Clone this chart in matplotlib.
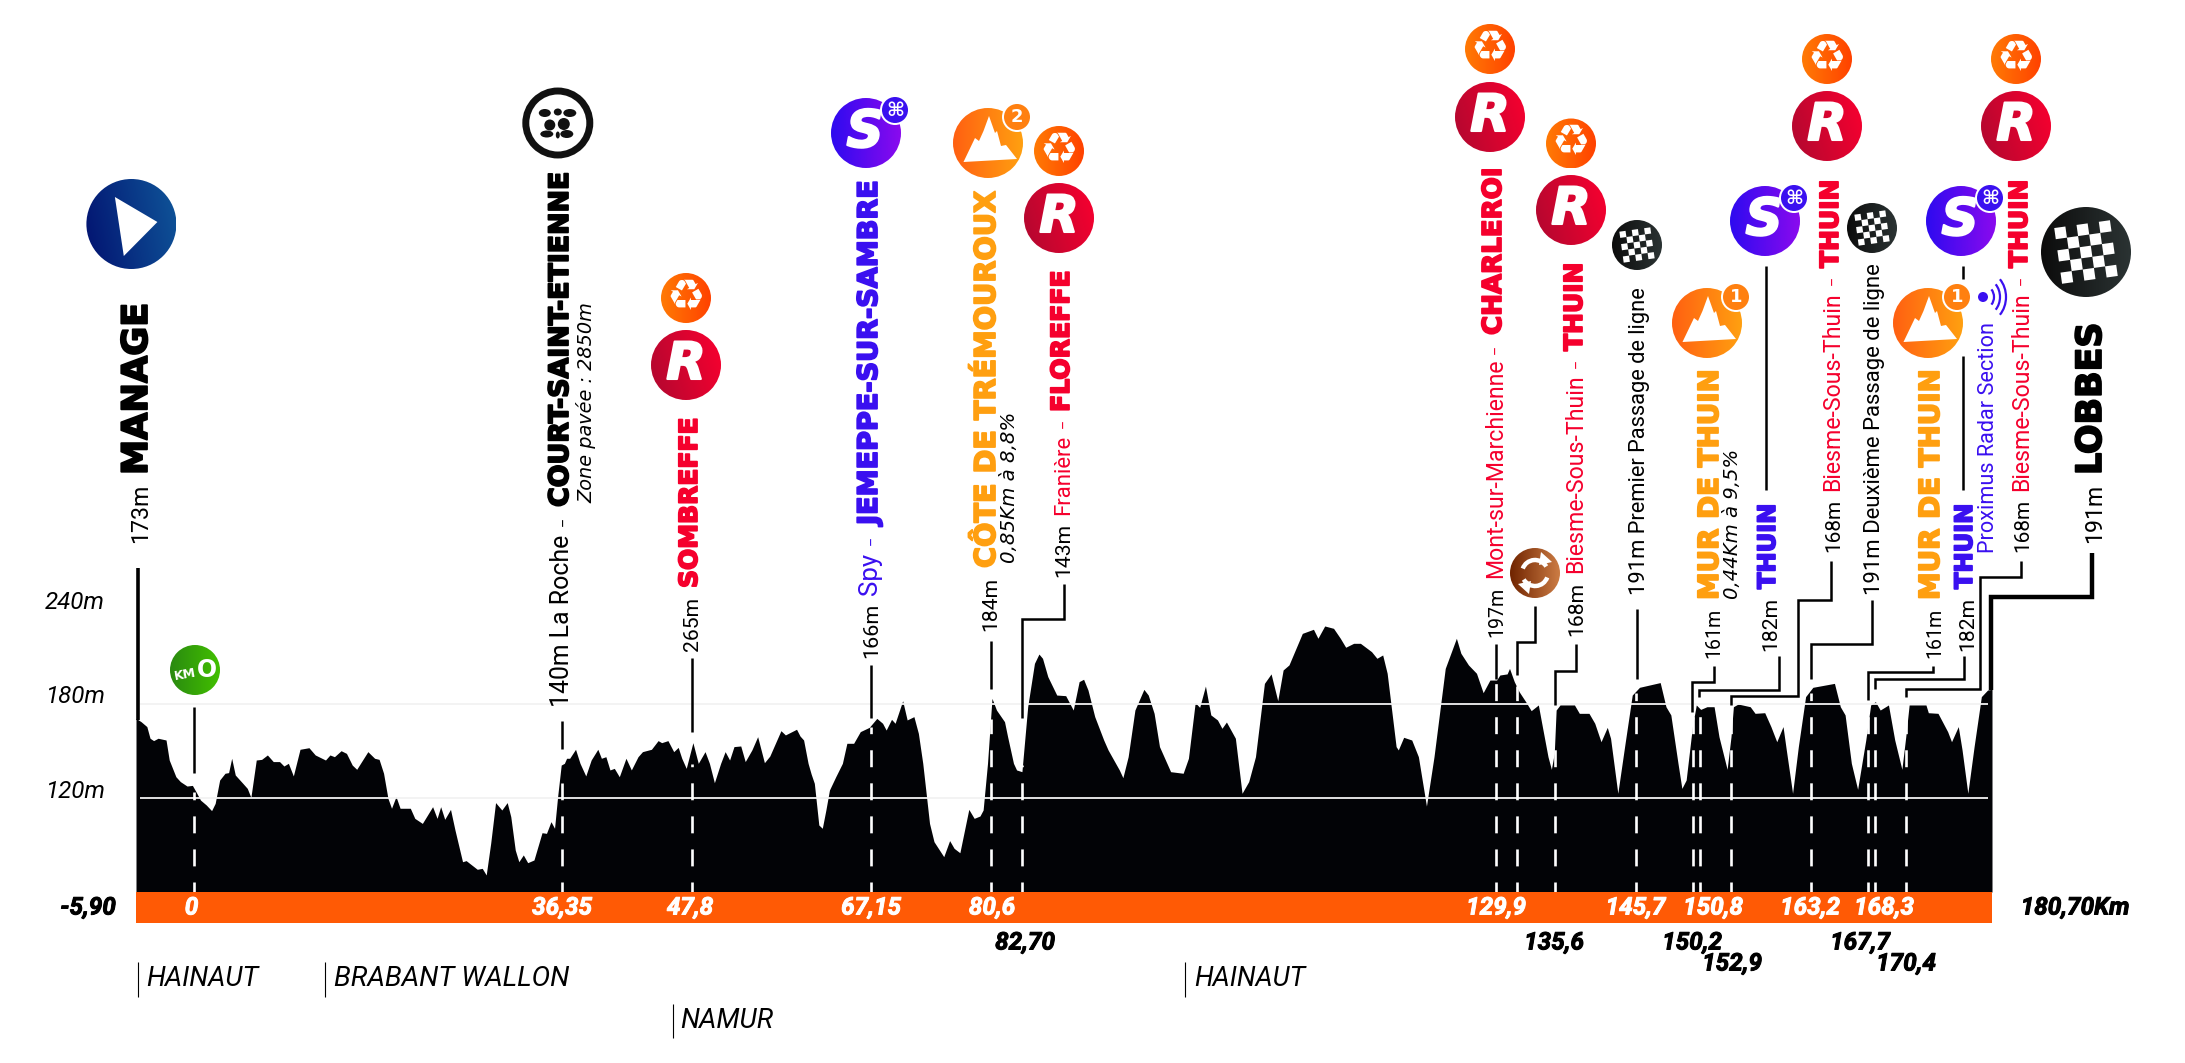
#!/usr/bin/env python3
"""Stage profile Manage - Lobbes: elevation silhouette with route markers."""
import numpy as np
import matplotlib
matplotlib.use('Agg')
import matplotlib.pyplot as plt
import matplotlib.patheffects as pe
from matplotlib.patches import Circle, Polygon, Rectangle, Ellipse, Arc

W, H = 2185, 1063

# Elevation profile
profile_km = [
    -5.9, -5.39, -4.81, -4.49, -4.13, -3.68, -2.88, -2.56, -1.89, -1.44, -0.77, -0.23, 0.13, 0.58, 1.16, 1.7,
    2.06, 2.51, 3.05, 3.41, 3.72, 4.08, 4.84, 5.29, 5.65, 6.19, 6.73, 7.31, 7.9, 8.53, 8.97, 9.42, 9.92, 10.59,
    11.49, 12.12, 13.15, 13.6, 14.05, 14.72, 15.26, 15.84, 16.29, 17.41, 18.09, 18.54, 18.99, 19.43, 19.79,
    20.24, 20.65, 21.68, 22.13, 22.89, 23.92, 24.37, 24.73, 25.14, 25.72, 26.17, 26.93, 27.29, 28.41, 28.91,
    29.31, 29.76, 30.25, 30.88, 31.42, 31.78, 32.23, 32.59, 33.04, 33.48, 34.11, 34.92, 35.37, 35.82, 36.18,
    36.49, 36.85, 37.17, 37.39, 37.7, 38.29, 38.74, 39.32, 39.86, 40.53, 40.89, 41.34, 41.75, 42.19, 42.69,
    43.36, 43.9, 44.57, 45.02, 45.92, 46.59, 46.95, 47.58, 48.16, 48.61, 48.97, 49.42, 50.09, 50.63, 51.31,
    51.75, 52.25, 52.88, 53.33, 53.78, 54.22, 54.9, 55.35, 56.02, 56.6, 57.28, 57.82, 58.94, 59.39, 60.51,
    60.86, 61.22, 61.67, 61.98, 62.3, 62.75, 63.1, 63.46, 63.82, 64.45, 65.12, 65.57, 66.25, 66.92, 67.82,
    68.58, 69.16, 69.52, 70.06, 70.42, 71.18, 71.63, 72.31, 72.76, 73.2, 73.88, 74.33, 75.31, 75.9, 76.35,
    76.93, 77.83, 78.37, 78.95, 79.27, 79.71, 80.16, 80.61, 81.42, 81.73, 82.32, 82.63, 83.17, 83.75, 84.43,
    84.88, 85.24, 85.77, 86.67, 87.57, 88.33, 88.92, 89.37, 89.81, 90.49, 91.39, 91.83, 92.96, 93.32, 93.85,
    94.53, 95.43, 95.87, 96.46, 97.0, 98.12, 99.38, 99.91, 100.59, 101.04, 101.62, 102.16, 102.83, 103.28,
    103.73, 104.63, 105.3, 105.97, 106.65, 107.55, 108.22, 108.89, 109.43, 110.02, 111.36, 112.48, 112.93,
    113.61, 114.5, 115.18, 115.72, 116.52, 117.2, 118.32, 118.86, 119.44, 119.89, 120.79, 121.01, 121.55,
    122.36, 123.03, 123.84, 124.6, 125.73, 126.85, 127.3, 128.06, 128.87, 129.54, 130.22, 130.89, 131.22,
    131.95, 132.19, 132.67, 133.16, 133.88, 134.37, 135.09, 135.43, 136.06, 136.4, 136.69, 136.88, 137.27,
    138.72, 139.21, 140.18, 140.76, 141.39, 142.02, 142.35, 143.08, 143.81, 144.53, 145.26, 147.34, 147.92,
    148.41, 149.13, 149.52, 149.95, 150.58, 150.97, 151.41, 152.04, 152.76, 153.25, 154.07, 154.46, 154.7,
    155.18, 156.39, 156.88, 157.85, 158.47, 159.06, 159.69, 160.02, 160.65, 161.23, 161.96, 162.69, 164.86,
    165.45, 165.93, 166.56, 167.19, 167.62, 168.01, 168.5, 168.98, 169.46, 170.29, 170.92, 171.64, 172.03,
    172.37, 174.06, 174.3, 175.27, 176.24, 176.63, 177.31, 177.69, 178.27, 178.9, 179.63, 180.26, 180.7,
]
profile_m = [
    170.7, 168.6, 165.5, 158.1, 156.6, 158.1, 157.0, 144.3, 133.7, 130.6, 127.8, 128.2, 124.2, 118.9, 115.8, 112.2,
    116.8, 131.6, 135.9, 136.3, 145.4, 134.8, 129.5, 126.3, 120.6, 144.3, 144.7, 147.5, 143.3, 143.3, 140.5, 142.2, 134.2, 151.1,
    152.1, 147.5, 144.3, 147.5, 146.4, 150.2, 148.5, 141.1, 138.4, 149.6, 145.4, 144.7, 135.9, 120.0, 113.7,
    121.1, 113.7, 113.7, 107.3, 104.1, 114.7, 107.3, 114.7, 106.7, 113.0, 99.9, 79.8, 80.5, 75.0, 75.6,
    71.4, 91.5, 117.3, 112.6, 117.3, 108.4, 87.2, 79.8, 84.1, 79.2, 80.9, 98.2, 97.8, 105.2, 101.0,
    121.1, 141.1, 142.2, 145.4, 145.4, 151.1, 142.2, 134.2, 144.3, 151.1, 145.4, 146.4, 138.0, 139.0, 133.7,
    145.4, 138.0, 146.4, 149.6, 151.1, 156.6, 155.3, 156.6, 149.6, 152.3, 145.4, 139.0, 155.3, 142.2, 149.6,
    142.2, 129.9, 142.2, 149.6, 144.3, 152.8, 153.2, 143.3, 150.7, 159.1, 142.6, 146.8, 162.9, 160.2, 163.8,
    159.5, 157.0, 142.2, 135.4, 129.5, 103.1, 101.0, 112.6, 125.3, 133.7, 142.2, 154.9, 154.9, 162.3, 165.0,
    170.7, 167.6, 163.3, 170.1, 167.6, 181.9, 169.7, 171.8, 161.2, 142.2, 104.1, 92.5, 83.0, 93.2, 88.3,
    85.5, 113.0, 107.3, 108.8, 112.6, 142.2, 183.4, 176.0, 168.6, 159.1, 142.2, 138.0, 136.9, 178.1, 205.6,
    211.5, 208.8, 197.2, 185.5, 185.1, 176.0, 194.0, 195.5, 188.7, 171.8, 157.0, 150.7, 138.0, 133.1, 146.4,
    176.0, 189.1, 185.5, 173.9, 152.8, 136.9, 135.9, 145.4, 180.7, 177.7, 191.2, 172.9, 169.7, 164.4,
    168.4, 158.1, 123.2, 130.6, 146.4, 192.9, 198.9, 181.9, 201.4, 204.6, 224.6, 227.2, 221.5,
    229.3, 227.8, 221.5, 215.8, 218.3, 218.3, 213.0, 208.8, 210.9, 199.3, 152.8, 150.7, 158.7,
    157.0, 146.4, 115.1, 146.4, 202.4, 221.5, 212.0, 204.6, 199.3, 187.0, 195.0, 195.0, 198.2,
    198.9, 202.4, 194.0, 187.6, 180.7, 175.6, 179.2, 167.6, 146.4, 138.4, 148.5, 176.0, 179.2,
    179.2, 173.9, 173.9, 167.6, 155.9, 165.0, 158.1, 123.2, 154.9, 185.5, 190.4, 193.4, 178.1,
    172.9, 142.2, 126.3, 131.6, 165.5, 179.2, 176.4, 178.1, 178.1, 159.1, 138.4, 159.1, 178.1,
    179.8, 178.1, 173.9, 174.3, 165.5, 155.9, 165.5, 150.7, 123.2, 152.8, 184.5, 190.4, 192.9,
    178.1, 172.9, 142.2, 125.7, 142.2, 157.0, 179.2, 181.3, 176.0, 179.2, 157.0, 138.4, 159.1,
    179.2, 179.2, 174.3, 173.9, 162.3, 155.9, 165.5, 150.7, 123.2, 152.8, 184.5, 188.7, 189.1,
]

# Marker positions as drawn (not always where the printed km value would fall)
marker_km = [-0.09, 36.93, 50.04, 68.04, 80.02, 83.17, 130.79, 132.92, 136.79, 144.91,
             150.59, 151.31, 154.45, 162.54, 168.21, 168.94, 172.08]
marker_top_m = [124, 130, 142, 165, 170, 141, 193, 191, 153, 187, 175, 178, 179, 187, 180, 180, 179]

grid_m = [120, 180]
ytick_m = [240, 180, 120]
ytick_labels = ['240m', '180m', '120m']

band_labels = ['0', '36,35', '47,8', '67,15', '80,6', '129,9', '145,7', '150,8', '163,2', '168,3']
under_labels = ['82,70', '135,6', '150,2', '167,7']
lower_labels = ['152,9', '170,4']

DIST_MIN, DIST_MAX = -5.9, 180.7
ELEV_MIN, ELEV_MAX = 60.6, 240

RED = '#F5002D'
BLUE = '#3A10F0'
ORANGE = '#FF9F10'
BAND = '#FF5A05'
LIGHT = 'Roboto'

plt.rcParams['lines.scale_dashes'] = False
plt.rcParams['font.family'] = 'DejaVu Sans'

fig = plt.figure(figsize=(W / 100, H / 100), dpi=100)
renderer = fig.canvas.get_renderer()

# Profile panel, in km and metres
ax = fig.add_axes([136 / W, 1 - 892 / H, (1992 - 136) / W, (892 - 609.1) / H])
ax.set_xlim(DIST_MIN, DIST_MAX)
ax.set_ylim(ELEV_MIN, ELEV_MAX)
ax.axis('off')
ax.fill_between(profile_km, ELEV_MIN, profile_m, color='#020306', lw=0, zorder=2)
ax.hlines(grid_m, -5.5, 180.3, color='#f2f2f2', lw=1.3, zorder=3)
for km, top in zip(marker_km, marker_top_m):
    ax.plot([km, km], [ELEV_MIN, top], color='white', lw=1.9, zorder=4,
            linestyle=(5, (12.2, 11.6)), dash_capstyle='butt')

# Page overlay in picture pixels for labels and icons
ov = fig.add_axes([0, 0, 1, 1], zorder=5)
ov.set_xlim(0, W)
ov.set_ylim(H, 0)
ov.axis('off')


def fit(t, length):
    bb = t.get_window_extent(renderer)
    t.set_fontsize(t.get_fontsize() * length / max(bb.width, bb.height))
    return t


def vtext(s, x, y0, y1, color='black', weight='normal', style='normal'):
    family = 'DejaVu Sans' if weight == 'bold' or style == 'italic' else LIGHT
    t = ov.text(x, y0, s, rotation=90, rotation_mode='anchor', ha='left', va='baseline',
                color=color, fontweight=weight, fontstyle=style, fontsize=20, family=family)
    fit(t, abs(y1 - y0))
    if weight == 'bold':
        t.set_path_effects([pe.withStroke(linewidth=1.3, foreground=color)])
    return t


def dash(x, y, color='black'):
    ov.text(x, y, '\u2013', rotation=90, rotation_mode='anchor', ha='center', va='baseline',
            color=color, fontsize=10, family=LIGHT)


def num(s, x, y, color='black'):
    t = ov.text(x, y, s, ha='center', va='center', color=color, fontweight='bold',
                fontstyle='italic', fontsize=17.5, family=LIGHT)
    t.set_path_effects([pe.withStroke(linewidth=0.7, foreground=color)])


def htext(s, x0, x1, y, color='black'):
    t = ov.text((x0 + x1) / 2, y, s, ha='center', va='center', color=color,
                fontstyle='italic', fontsize=20, family=LIGHT)
    return fit(t, x1 - x0)


def leader(xs, ys, lw=1.8):
    ov.plot(xs, ys, color='black', lw=lw, solid_joinstyle='miter', solid_capstyle='butt')


def disc(cx, cy, r, c0, c1, tilt=0.3):
    c0 = np.array(matplotlib.colors.to_rgb(c0))
    c1 = np.array(matplotlib.colors.to_rgb(c1))
    xx, yy = np.meshgrid(np.linspace(0, 1, 80), np.linspace(0, 1, 80))
    g = np.clip((xx + tilt * (1 - yy)) / (1 + tilt), 0, 1)[..., None]
    im = ov.imshow(c0 + (c1 - c0) * g, extent=(cx - r, cx + r, cy + r, cy - r), aspect='auto',
                   zorder=3, interpolation='bilinear')
    im.set_clip_path(Circle((cx, cy), r, transform=ov.transData))


def recycle(cx, cy):
    disc(cx, cy, 25, '#FF7A05', '#FF4200', 0)
    ov.text(cx, cy, '\u267b', ha='center', va='center', color='white', fontsize=31, zorder=4)


def big_letter(cx, cy, s):
    t = ov.text(cx, cy, s, ha='center', va='center', color='white', fontsize=37,
                fontweight='bold', fontstyle='italic', zorder=4)
    t.set_path_effects([pe.withStroke(linewidth=1.5, foreground='white')])


def r_icon(cx, cy):
    disc(cx, cy, 35, '#B00830', '#FA002F')
    big_letter(cx, cy, 'R')


def badge(cx, cy, c, s, size=13):
    ov.add_patch(Circle((cx, cy), 15, fc='white', ec='none', zorder=5))
    ov.add_patch(Circle((cx, cy), 13, fc=c, ec='none', zorder=5))
    ov.text(cx, cy, s, ha='center', va='center', color='white', fontsize=size,
            fontweight='bold', zorder=6)


def sprint(cx, cy):
    disc(cx, cy, 35, '#2E0AF0', '#8A0AEE', 0)
    big_letter(cx - 1, cy, 'S')
    badge(cx + 29, cy - 23, '#3A10F0', '\u2318', 14)


def mountain(cx, cy, s):
    disc(cx, cy, 35, '#FF6012', '#FFA010', 0)
    shape = [(-24.5, 19), (-13, -5), (-9, -2), (-4.5, -12), (1, -27), (7, -10), (9, -12),
             (13, 3), (18, 2), (29, 16)]
    ov.add_patch(Polygon([(cx + a, cy + b) for a, b in shape], fc='white', ec='none', zorder=4))
    badge(cx + 29, cy - 26, '#FF8010', s)


def flag(cx, cy, r):
    disc(cx, cy, r, '#0C0C0C', '#2B3333', 0)
    cell = r * 0.25
    rot = np.radians(-8)
    for i in range(-2, 3):
        for j in range(-2, 3):
            if (i + j) % 2:
                continue
            corners = [(i - .5, j - .5), (i + .5, j - .5), (i + .5, j + .5), (i - .5, j + .5)]
            pts = [(cx + cell * (a * np.cos(rot) - b * np.sin(rot)),
                    cy + cell * (a * np.sin(rot) + b * np.cos(rot))) for a, b in corners]
            ov.add_patch(Polygon(pts, fc='white', ec='none', zorder=4))


# Band and base furniture
ov.add_patch(Rectangle((136, 892), 1992 - 136, 31, fc=BAND, ec='none', zorder=1))
leader([137.5, 137.5], [568, 720], lw=2.6)

# Y ticks
for lab, m in zip(ytick_labels, ytick_m):
    y = 798.3 - (m - 120) * 94.6 / 60 - 7
    htext(lab, 45, 105, y)

# Distances on the band
for lab, x in zip(band_labels, [191.5, 562, 690, 871, 992, 1496, 1635.5, 1713, 1810, 1884]):
    num(lab, x, 908, 'white')
for lab, x in zip(under_labels, [1025, 1554, 1692, 1860]):
    num(lab, x, 943)
for lab, x in zip(lower_labels, [1732, 1906]):
    num(lab, x, 964)
num('-5,90', 88, 908)
num('180,70Km', 2075, 908)

# Regions
for x, x0, x1, y0, y1, name in [(137.5, 146, 258, 962, 997, 'HAINAUT'),
                                (325.4, 334, 569, 962, 997, 'BRABANT WALLON'),
                                (672.8, 680, 773, 1004, 1038, 'NAMUR'),
                                (1185, 1194, 1305, 962, 997, 'HAINAUT')]:
    leader([x, x], [y0, y1], lw=0.8)
    htext(name, x0, x1, (y0 + y1) / 2)

# Leader lines
leader([193.75, 193.75], [707, 773])
leader([562, 562], [721, 749])
leader([692.4, 692.4], [658, 732])
leader([871.4, 871.4], [665, 718])
leader([990.6, 990.6], [641, 689])
leader([1064, 1064, 1022, 1022], [584, 619, 619, 718])
leader([1495.5, 1495.5], [644, 679])
leader([1534.5, 1534.5, 1517, 1517], [606, 642, 642, 675])
leader([1576, 1576, 1555, 1555], [644, 671, 671, 705])
leader([1636.5, 1636.5], [609, 679])
leader([1713.6, 1713.6, 1692.4, 1692.4], [666, 682, 682, 712])
leader([1778.6, 1778.6, 1698.7, 1698.7], [656, 690, 690, 697])
leader([1831, 1831, 1797.8, 1797.8, 1731, 1731], [561, 600, 600, 696, 696, 705])
leader([1871.5, 1871.5, 1811.3, 1811.3], [600, 644, 644, 679])
leader([1932.6, 1932.6, 1868, 1868], [666, 672, 672, 700])
leader([1964.4, 1964.4, 1875, 1875], [656, 679, 679, 689])
leader([2021, 2021, 1980, 1980, 1906, 1906], [561, 577, 577, 689, 689, 697])
leader([2092, 2092, 1991, 1991], [553, 597, 597, 690], lw=3.2)
leader([1766, 1766], [266, 490])
leader([1962.5, 1962.5], [266, 279])
leader([1962.5, 1962.5], [356, 490])

# Rotated labels
vtext('173m', 147, 543, 484)
vtext('MANAGE', 147, 475, 303, weight='bold')
vtext('140m La Roche', 569, 707, 535)
dash(569, 521)
vtext('COURT-SAINT-ETIENNE', 568, 507, 173, weight='bold')
vtext('Zone pavée : 2850m', 592, 503, 302, style='italic')
vtext('265m', 698, 651, 597)
vtext('SOMBREFFE', 697, 588, 418, color=RED, weight='bold')
vtext('166m', 877, 658, 603)
vtext('Spy', 877, 595, 553, color=BLUE)
dash(877, 540, BLUE)
vtext('JEMEPPE-SUR-SAMBRE', 877, 525, 181, color=BLUE, weight='bold')
vtext('184m', 996, 631, 577)
vtext('CÔTE DE TRÉMOUROUX', 995, 568, 192, color=ORANGE, weight='bold')
vtext('0,85Km à 8,8%', 1015, 563, 412, style='italic')
vtext('143m', 1069, 577, 523)
vtext('Franière', 1069, 515, 435, color=RED)
dash(1069, 423, RED)
vtext('FLOREFFE', 1069, 412, 271, color=RED, weight='bold')
vtext('197m', 1502, 637, 587)
vtext('Mont-sur-Marchienne', 1502, 578, 360, color=RED)
dash(1501, 349, RED)
vtext('CHARLEROI', 1501, 335, 168, color=RED, weight='bold')
vtext('168m', 1582, 636, 582)
vtext('Biesme-Sous-Thuin', 1582, 573, 375, color=RED)
dash(1582, 363, RED)
vtext('THUIN', 1582, 351, 263, color=RED, weight='bold')
vtext('191m Premier Passage de ligne', 1645, 595, 287)
vtext('161m', 1719, 658, 608)
vtext('MUR DE THUIN', 1718, 600, 370, color=ORANGE, weight='bold')
vtext('0,44Km à 9,5%', 1738, 599, 449, style='italic')
vtext('182m', 1776, 651, 597)
vtext('THUIN', 1775, 589, 504, color=BLUE, weight='bold')
vtext('168m', 1839, 552, 499)
vtext('Biesme-Sous-Thuin', 1839, 491, 293, color=RED)
dash(1838, 280, RED)
vtext('THUIN', 1838, 268, 180, color=RED, weight='bold')
vtext('191m Deuxième Passage de ligne', 1880, 595, 263)
vtext('161m', 1940, 658, 608)
vtext('MUR DE THUIN', 1939, 600, 370, color=ORANGE, weight='bold')
vtext('182m', 1973, 651, 597)
vtext('THUIN', 1972, 589, 504, color=BLUE, weight='bold')
vtext('Proximus Radar Section', 1994, 553, 322, color=BLUE)
vtext('168m', 2028, 552, 499)
vtext('Biesme-Sous-Thuin', 2028, 491, 293, color=RED)
dash(2027, 280, RED)
vtext('THUIN', 2027, 268, 180, color=RED, weight='bold')
vtext('191m', 2101, 543, 484)
vtext('LOBBES', 2101, 475, 323, weight='bold')

# Start icon
disc(131.4, 224, 45, '#021270', '#0F5599', 0.2)
ov.add_patch(Polygon([(114.9, 197), (157.4, 222), (123.8, 256)], fc='white', ec='none', zorder=4))

# Km 0 icon
disc(195, 670, 25, '#2A8A10', '#42C000', 0)
ov.text(185, 675, 'KM', ha='center', va='center', color='white', fontsize=9, fontweight='bold',
        rotation=10, zorder=4)
ov.text(207, 670, 'O', ha='center', va='center', color='white', fontsize=17, fontweight='bold',
        zorder=4)

# Cobbles icon
ov.add_patch(Circle((557.8, 123), 32, fc='white', ec='#111111', lw=5, zorder=3))
for dx, dy, w, h in [(-13, -10, 12, 8), (0, -11, 8, 7), (12, -10, 13, 8), (-8, 2, 11, 11),
                     (6, 1, 12, 12), (-11, 11, 13, 7), (0, 12, 4, 7), (9, 11, 13, 8)]:
    ov.add_patch(Ellipse((557.8 + dx, 123 + dy), w, h, fc='#111111', ec='none', zorder=4))

# Route icons
recycle(686, 298)
r_icon(686, 365)
sprint(866, 133)
mountain(988, 143, '2')
recycle(1059, 151)
r_icon(1059, 218)
recycle(1490, 49)
r_icon(1490, 117)
recycle(1571, 143.5)
r_icon(1571, 210)
flag(1637, 245, 25)
mountain(1707, 323, '1')
sprint(1765, 221)
recycle(1827, 59)
r_icon(1827, 126)
flag(1872, 228, 25)
mountain(1928, 323, '1')
sprint(1961, 221)
recycle(2016, 59)
r_icon(2016, 126)
flag(2086, 252, 45)

# Feed zone icon
disc(1535, 573, 25, '#702400', '#CC7C44', 0)
for t1, t2 in [(200, 330), (20, 150)]:
    ov.add_patch(Arc((1535, 573), 26, 26, theta1=t1, theta2=t2, color='white', lw=3.2, zorder=4))
ov.add_patch(Polygon([(1541, 552), (1552, 562), (1539, 565)], fc='white', ec='none', zorder=4))
ov.add_patch(Polygon([(1529, 594), (1518, 584), (1531, 581)], fc='white', ec='none', zorder=4))

# Radar icon
ov.add_patch(Circle((1983, 297), 5, fc=BLUE, ec='none', zorder=4))
for rad in [9, 15, 21]:
    ov.add_patch(Arc((1985, 297), rad * 2, rad * 2.4, theta1=-50, theta2=50, color=BLUE, lw=1.6, zorder=4))

fig.savefig('out.png', dpi=100, facecolor='white')
